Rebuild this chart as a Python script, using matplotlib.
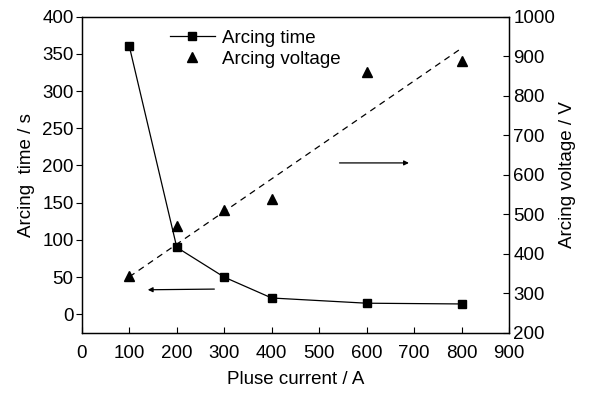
import matplotlib.pyplot as plt
import numpy as np

plt.rcParams['font.family'] = ['Liberation Sans', 'DejaVu Sans']
plt.rcParams['font.size'] = 13.5

# Data
current = [100, 200, 300, 400, 600, 800]
arc_time = [360, 90, 50, 22, 15, 14]
arc_voltage = [345, 470, 510, 538, 860, 888]
fit_x = [100, 800]
fit_y = [342, 920]

fig = plt.figure(figsize=(6.02, 3.95), dpi=100)
ax1 = fig.add_axes([0.136, 0.157, 0.7095, 0.801])
ax2 = ax1.twinx()

l1, = ax1.plot(current, arc_time, color='black', lw=0.9, marker='s', ms=6,
               label='Arcing time')
l2, = ax2.plot(current, arc_voltage, ls='none', color='black', marker='^', ms=7,
               label='Arcing voltage')
ax2.plot(fit_x, fit_y, color='black', lw=0.9, ls=(0, (5, 4)))

ax1.set_xlim(0, 900)
ax1.set_ylim(-25, 400)
ax2.set_ylim(200, 1000)
ax1.set_xticks(np.arange(0, 901, 100))
ax1.set_yticks(np.arange(0, 401, 50))
ax2.set_yticks(np.arange(200, 1001, 100))

ax1.set_xlabel('Pluse current / A', labelpad=6)
ax1.set_ylabel('Arcing  time / s', labelpad=5)
ax2.set_ylabel('Arcing voltage / V', labelpad=3)

ax1.tick_params(axis='x', direction='in', length=4, pad=9)
ax1.tick_params(axis='y', direction='out', length=4, pad=2)
ax2.tick_params(axis='y', direction='in', length=4, pad=3)

for a in (ax1, ax2):
    for s in a.spines.values():
        s.set_linewidth(0.9)

# direction arrows
ax1.annotate('', xy=(133, 33), xytext=(285, 34),
             arrowprops=dict(arrowstyle='-|>', color='black', lw=0.9,
                             mutation_scale=7))
ax2.annotate('', xy=(695, 630), xytext=(537, 630),
             arrowprops=dict(arrowstyle='-|>', color='black', lw=0.9,
                             mutation_scale=7))

ax1.legend(handles=[l1, l2], loc='upper left', bbox_to_anchor=(0.175, 1.0),
           frameon=False, handlelength=2.4, handletextpad=0.4,
           borderaxespad=0.3, labelspacing=0.2)

plt.savefig('out.png', dpi=100)
